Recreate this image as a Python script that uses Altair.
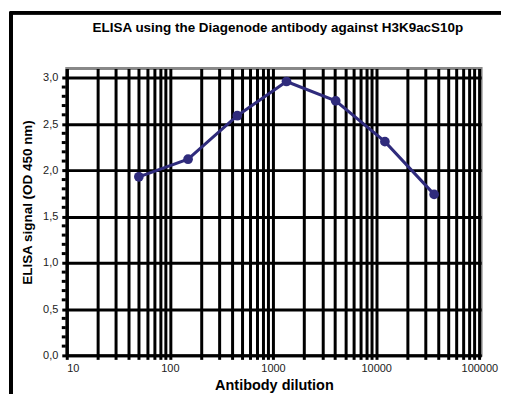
import altair as alt
import pandas as pd

# Data
dilution = [50, 150, 450, 1350, 4050, 12150, 36450]
signal = [1.93, 2.12, 2.59, 2.96, 2.75, 2.31, 1.74]

x_decades = ["10", "100", "1000", "10000", "100000"]
x_tick_values = [m * 10 ** e for e in range(1, 5) for m in range(1, 10)] + [100000]
y_major = [0.0, 0.5, 1.0, 1.5, 2.0, 2.5, 3.0]
y_minor = [round(i * 0.1, 1) for i in range(0, 31) if i % 5 != 0]

title_text = "ELISA using the Diagenode antibody against H3K9acS10p"
x_title = "Antibody dilution"
y_title = "ELISA signal (OD 450 nm)"

df = pd.DataFrame({"dilution": dilution, "signal": signal})
minor_df = pd.DataFrame({"signal": y_minor})

FONT = "Liberation Sans"
LINE_COLOR = "#2F2B7C"

x_enc = alt.X(
    "dilution:Q",
    scale=alt.Scale(type="log", domain=[10, 104000], nice=False),
    axis=alt.Axis(
        values=x_tick_values,
        labelExpr="indexof(" + str(x_decades) + ", format(datum.value, 'd')) >= 0 ? format(datum.value, 'd') : ''",
        labelOverlap=False,
        grid=True,
        gridColor="black",
        gridWidth=3,
        gridOpacity=1,
        domainColor="black",
        domainWidth=3,
        tickColor="black",
        tickWidth=3,
        tickSize=4,
        labelPadding=3,
        labelFont=FONT,
        labelFontSize=11,
        labelColor="#222222",
        title=x_title,
        titleFont=FONT,
        titleFontSize=14.5,
        titleFontWeight="bold",
        titleColor="black",
        titlePadding=5,
    ),
)

y_scale = alt.Scale(domain=[0, 3.1], nice=False, zero=True)

y_enc = alt.Y(
    "signal:Q",
    scale=y_scale,
    axis=alt.Axis(
        values=y_major,
        labelExpr="replace(format(datum.value, '.1f'), '.', ',')",
        labelOverlap=False,
        grid=True,
        gridColor="black",
        gridWidth=3,
        gridOpacity=1,
        domainColor="black",
        domainWidth=3,
        tickColor="black",
        tickWidth=3,
        tickSize=5,
        tickRound=True,
        labelPadding=4,
        labelFont=FONT,
        labelFontSize=11,
        labelColor="#222222",
        title=y_title,
        titleFont=FONT,
        titleFontSize=13.5,
        titleFontWeight="bold",
        titleColor="black",
        titlePadding=8,
        titleY=134,
    ),
)

base = alt.Chart(df)
line = base.mark_line(color=LINE_COLOR, strokeWidth=3).encode(x=x_enc, y=y_enc)
points = base.mark_circle(color=LINE_COLOR, size=95, opacity=1).encode(x="dilution:Q", y="signal:Q")

minor_ticks = alt.Chart(minor_df).mark_tick(
    color="black", orient="horizontal", size=4, thickness=3, clip=False, opacity=1
).encode(x=alt.value(-3), y=alt.Y("signal:Q", scale=y_scale))

frame_left = alt.Chart(df).mark_rule(color="black", strokeWidth=3, clip=False).encode(
    x=alt.value(-56), y=alt.value(-57), y2=alt.value(340)
)
frame_top = alt.Chart(df).mark_rule(color="black", strokeWidth=3, clip=False).encode(
    x=alt.value(-57), x2=alt.value(450), y=alt.value(-56)
)

chart = (
    alt.layer(line, points, minor_ticks, frame_left, frame_top)
    .properties(
        width=416,
        height=288,
        autosize=alt.AutoSizeParams(type="none"),
        padding={"left": 59, "top": 60, "right": 20, "bottom": 38},
        title=alt.TitleParams(
            title_text,
            font=FONT,
            fontSize=13.5,
            fontWeight="bold",
            color="black",
            anchor="middle",
            frame="group",
            offset=-24,
            dx=4,
        ),
    )
    .configure(background="white")
    .configure_view(stroke="#888888", strokeWidth=3)
)

chart.save("out.html", embed_options={"renderer": "svg", "actions": False})
